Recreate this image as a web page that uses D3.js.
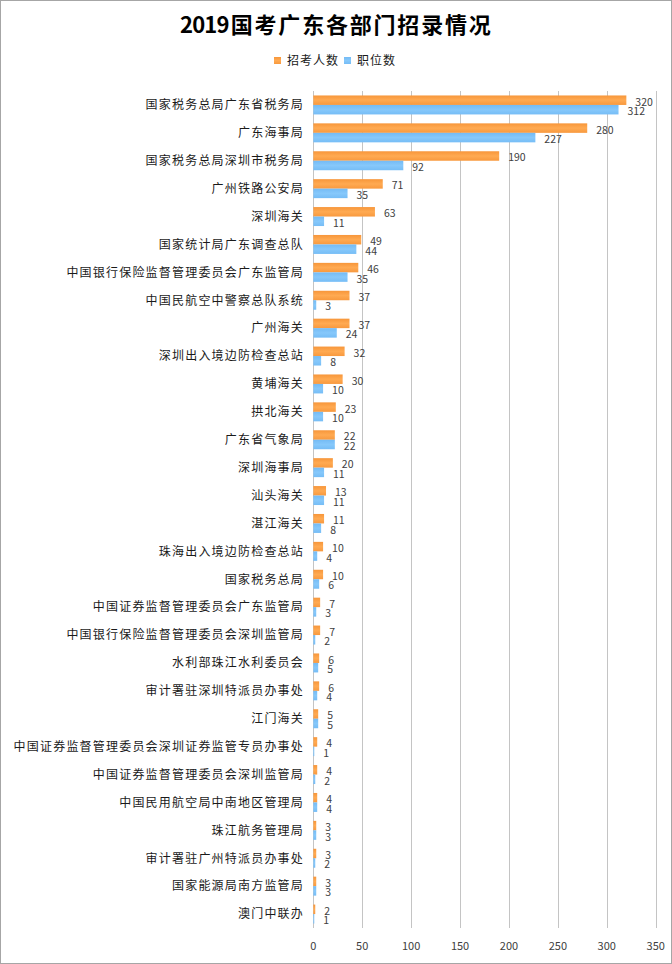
<!DOCTYPE html>
<html>
<head>
<meta charset="utf-8">
<script src="https://cdn.jsdelivr.net/npm/d3@7"></script>
<style>
  body { margin: 0; background: #fff; }
  svg { display: block; font-family: "Noto Sans CJK SC", "Noto Sans", sans-serif; }
</style>
</head>
<body>
<script>
var categories = [
  "国家税务总局广东省税务局", "广东海事局", "国家税务总局深圳市税务局", "广州铁路公安局",
  "深圳海关", "国家统计局广东调查总队", "中国银行保险监督管理委员会广东监管局",
  "中国民航空中警察总队系统", "广州海关", "深圳出入境边防检查总站", "黄埔海关",
  "拱北海关", "广东省气象局", "深圳海事局", "汕头海关", "湛江海关",
  "珠海出入境边防检查总站", "国家税务总局", "中国证券监督管理委员会广东监管局",
  "中国银行保险监督管理委员会深圳监管局", "水利部珠江水利委员会", "审计署驻深圳特派员办事处",
  "江门海关", "中国证券监督管理委员会深圳证券监管专员办事处", "中国证券监督管理委员会深圳监管局",
  "中国民用航空局中南地区管理局", "珠江航务管理局", "审计署驻广州特派员办事处",
  "国家能源局南方监管局", "澳门中联办"
];
var applicants = [320, 280, 190, 71, 63, 49, 46, 37, 37, 32, 30, 23, 22, 20, 13, 11, 10, 10, 7, 7, 6, 6, 5, 4, 4, 4, 3, 3, 3, 2];
var positions = [312, 227, 92, 35, 11, 44, 35, 3, 24, 8, 10, 10, 22, 11, 11, 8, 4, 6, 3, 2, 5, 4, 5, 1, 2, 4, 3, 2, 3, 1];
var seriesNames = ["招考人数", "职位数"];
var xTicks = [0, 50, 100, 150, 200, 250, 300, 350];

var width = 672, height = 964;
var plot = { left: 313.3, right: 655.7, top: 91, bottom: 928 };

var svg = d3.select("body").append("svg")
  .attr("width", width).attr("height", height);

// gradients like the original bars
var defs = svg.append("defs");
var gradColors = [["#f7963a", "#ffaa52", "#f8993e"], ["#74bbf5", "#86c8fb", "#76bdf6"]];
gradColors.forEach(function(c, i) {
  var g = defs.append("linearGradient").attr("id", "grad" + i)
    .attr("x1", 0).attr("y1", 0).attr("x2", 0).attr("y2", 1);
  g.append("stop").attr("offset", "0%").attr("stop-color", c[0]);
  g.append("stop").attr("offset", "50%").attr("stop-color", c[1]);
  g.append("stop").attr("offset", "100%").attr("stop-color", c[2]);
});

svg.append("rect")
  .attr("x", 0.5).attr("y", 0.5)
  .attr("width", width - 1).attr("height", height - 1)
  .attr("fill", "#fff").attr("stroke", "#a6a6a6");

var x = d3.scaleLinear().domain([0, 350]).range([plot.left, plot.right]);
var y = d3.scaleBand().domain(categories).range([plot.top, plot.bottom])
  .paddingInner(0.32).paddingOuter(0.16);
var ySub = d3.scaleBand().domain(seriesNames).range([0, y.bandwidth()]);

// gridlines
svg.append("g").selectAll("line")
  .data(xTicks).enter().append("line")
  .attr("x1", function(d) { return Math.round(x(d)) + 0.5; })
  .attr("x2", function(d) { return Math.round(x(d)) + 0.5; })
  .attr("y1", plot.top).attr("y2", plot.bottom)
  .attr("stroke", "#c4c4c4").attr("stroke-width", 1);

// x axis tick labels
svg.append("g").selectAll("text")
  .data(xTicks).enter().append("text")
  .attr("x", function(d) { return x(d); })
  .attr("y", 950)
  .attr("text-anchor", "middle")
  .attr("font-size", 11)
  .attr("fill", "#404040")
  .text(function(d) { return d; });

// category labels
svg.append("g").selectAll("text")
  .data(categories).enter().append("text")
  .attr("x", 304)
  .attr("y", function(d) { return y(d) + y.bandwidth() / 2; })
  .attr("dy", "0.36em")
  .attr("text-anchor", "end")
  .attr("font-size", 12)
  .attr("letter-spacing", "1.2px")
  .attr("fill", "#1a1a1a")
  .text(function(d) { return d; });

var series = [applicants, positions];
series.forEach(function(vals, si) {
  var rows = categories.map(function(c, i) { return { cat: c, v: vals[i] }; });
  var g = svg.append("g");
  g.selectAll("rect")
    .data(rows).enter().append("rect")
    .attr("x", x(0))
    .attr("y", function(d) { return y(d.cat) + ySub(seriesNames[si]); })
    .attr("width", function(d) { return x(d.v) - x(0); })
    .attr("height", ySub.bandwidth())
    .attr("fill", "url(#grad" + si + ")");
  g.selectAll("text")
    .data(rows).enter().append("text")
    .attr("x", function(d) { return x(d.v) + 9; })
    .attr("y", function(d) { return y(d.cat) + ySub(seriesNames[si]) + ySub.bandwidth() / 2 + 2; })
    .attr("dy", "0.33em")
    .attr("font-size", 10.5)
    .attr("fill", "#404040")
    .text(function(d) { return d.v; });
});

// title
var title = svg.append("text")
  .attr("x", 180).attr("y", 33)
  .attr("font-size", 22).attr("font-weight", "bold")
  .attr("fill", "#000");
title.append("tspan").attr("letter-spacing", "-0.8px").text("2019");
title.append("tspan").attr("dx", 2).attr("letter-spacing", "1.8px").text("国考广东各部门招录情况");

// legend
var legendX = [274, 344];
var legend = svg.append("g").selectAll("g")
  .data(seriesNames).enter().append("g")
  .attr("transform", function(d, i) { return "translate(" + legendX[i] + ",57)"; });
legend.append("rect")
  .attr("width", 7).attr("height", 7)
  .attr("fill", function(d, i) { return "url(#grad" + i + ")"; });
legend.append("text")
  .attr("x", 13).attr("y", 4)
  .attr("dy", "0.36em")
  .attr("font-size", 12)
  .attr("letter-spacing", "1px")
  .attr("fill", "#1a1a1a")
  .text(function(d) { return d; });
</script>
</body>
</html>
